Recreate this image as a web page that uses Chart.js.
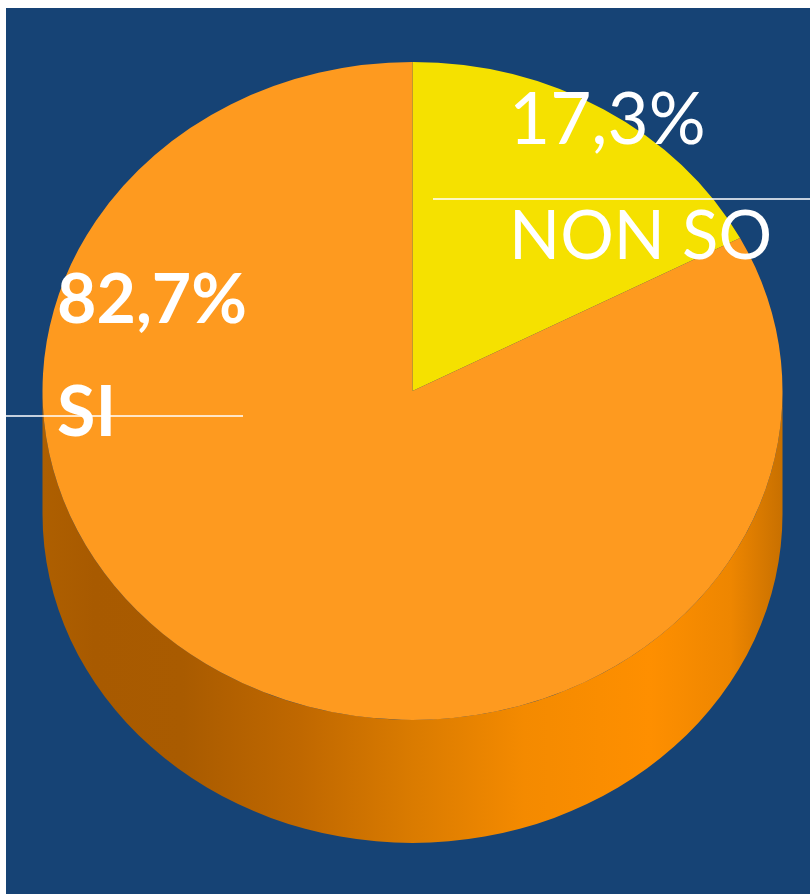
<!DOCTYPE html>
<html>
<head>
<meta charset="utf-8">
<script src="https://cdn.jsdelivr.net/npm/chart.js@4"></script>
<style>
  html, body { margin: 0; padding: 0; background: #fff; }
  #wrap { width: 810px; height: 894px; }
</style>
</head>
<body>
<div id="wrap"><canvas id="torta"></canvas></div>
<script>
// Categories and values (clockwise from 12 o'clock)
const labels = ['NON SO', 'SI'];
const values = [17.3, 82.7];
const percentLabels = ['17,3%', '82,7%'];
const colors = ['#F5E100', '#FE9A1F'];

const tilt = 0.889;   // flatten the top face into an ellipse
const depth = 123;    // height of the cylinder side

// background, 3D side and flattened top face
const torta3d = {
  id: 'torta3d',
  beforeDraw(chart) {
    const ctx = chart.ctx;
    ctx.save();
    ctx.fillStyle = '#fff';
    ctx.fillRect(0, 0, chart.width, chart.height);
    ctx.fillStyle = '#164375';
    ctx.fillRect(6, 8, chart.width - 6, chart.height - 8);

    const arc = chart.getDatasetMeta(0).data[0];
    const cx = arc.x, cy = arc.y, r = arc.outerRadius, ry = r * tilt;
    const g = ctx.createLinearGradient(cx - r, 0, cx + r, 0);
    g.addColorStop(0, '#AE5F00');
    g.addColorStop(0.07, '#A85A00');
    g.addColorStop(0.19, '#A95B00');
    g.addColorStop(0.35, '#C06800');
    g.addColorStop(0.5, '#DA7B00');
    g.addColorStop(0.65, '#F48A00');
    g.addColorStop(0.82, '#FE8F00');
    g.addColorStop(0.93, '#EE8600');
    g.addColorStop(1, '#C87000');
    ctx.beginPath();
    ctx.moveTo(cx - r, cy);
    ctx.lineTo(cx - r, cy + depth);
    ctx.ellipse(cx, cy + depth, r, ry, 0, Math.PI, 0, true);
    ctx.lineTo(cx + r, cy);
    ctx.ellipse(cx, cy, r, ry, 0, 0, Math.PI, false);
    ctx.closePath();
    ctx.fillStyle = g;
    ctx.fill();
    ctx.restore();
  },
  beforeDatasetsDraw(chart) {
    const ctx = chart.ctx;
    const arc = chart.getDatasetMeta(0).data[0];
    ctx.save();
    ctx.translate(arc.x, arc.y);
    ctx.scale(1, tilt);
    ctx.translate(-arc.x, -arc.y);
  },
  afterDatasetsDraw(chart) {
    chart.ctx.restore();
  }
};

// leader lines and text labels
const etichette = {
  id: 'etichette',
  afterDraw(chart) {
    const ctx = chart.ctx;
    ctx.save();
    ctx.strokeStyle = '#fff';
    ctx.lineWidth = 1.5;
    ctx.beginPath();
    ctx.moveTo(433, 199); ctx.lineTo(810, 199);
    ctx.moveTo(6, 416); ctx.lineTo(243, 416);
    ctx.stroke();

    ctx.fillStyle = '#fff';
    ctx.textAlign = 'left';
    ctx.textBaseline = 'alphabetic';
    ctx.font = '71px Lato';
    ctx.fillText(percentLabels[0], 509, 144);
    ctx.font = '67px Lato';
    ctx.fillText(labels[0], 509, 259);
    ctx.font = 'bold 68px Lato';
    ctx.fillText(percentLabels[1], 57, 323);
    ctx.font = 'bold 70px Lato';
    ctx.fillText(labels[1], 57, 436);
    ctx.restore();
  }
};

new Chart(document.getElementById('torta'), {
  type: 'pie',
  data: {
    labels: labels,
    datasets: [{
      data: values,
      backgroundColor: colors,
      borderWidth: 0,
      offset: 0,
      hoverOffset: 0,
      clip: false
    }]
  },
  options: {
    responsive: true,
    maintainAspectRatio: false,
    animation: false,
    events: [],
    layout: { padding: { left: 42, right: 27, top: 21, bottom: 133 } },
    plugins: { legend: { display: false }, tooltip: { enabled: false } }
  },
  plugins: [torta3d, etichette]
});
</script>
</body>
</html>
